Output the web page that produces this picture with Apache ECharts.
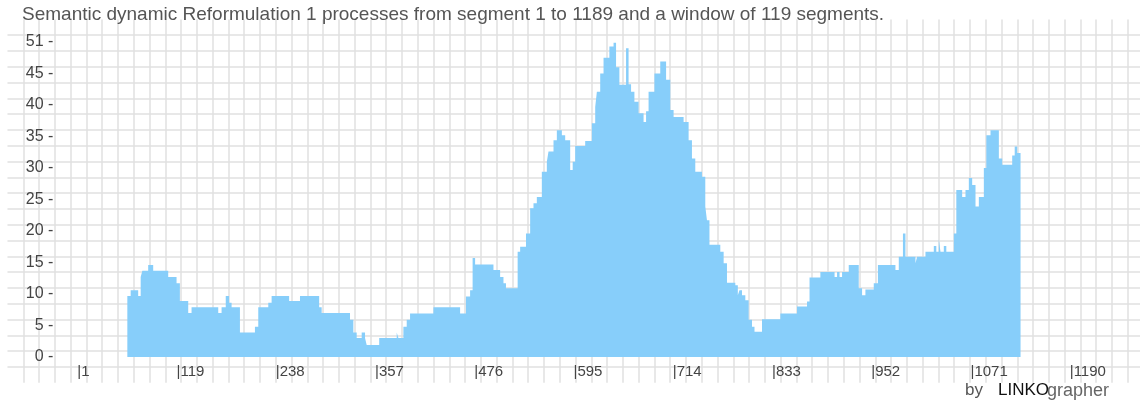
<!DOCTYPE html>
<html>
<head>
<meta charset="utf-8">
<script src="https://cdn.jsdelivr.net/npm/echarts/dist/echarts.min.js"></script>
<style>
    body {margin:0; background:#fff;}
    #main_box {width:1140px; height:402px;}
</style>
</head>
<body>
<div id="main_box"></div>
<script>
// step runs: segment where a run starts, and its value
let seg_start = [60, 64, 73, 76, 78, 85, 91, 109, 119, 123, 133, 137, 169, 173, 178, 182, 185, 195, 213, 217,
    229, 233, 254, 267, 290, 293, 327, 331, 335, 341, 345, 347, 362, 383, 385, 391, 395, 399, 427, 459,
    466, 471, 474, 477, 499, 507, 511, 514, 528, 531, 538, 543, 547, 551, 557, 563, 565, 571, 575, 581,
    585, 591, 594, 597, 609, 617, 621, 623, 627, 631, 638, 643, 646, 650, 658, 661, 664, 668, 673, 679,
    682, 685, 692, 699, 706, 711, 715, 727, 733, 737, 741, 749, 753, 755, 758, 771, 775, 779, 789, 792,
    794, 797, 801, 805, 809, 812, 821, 843, 863, 875, 878, 891, 908, 911, 914, 917, 925, 937, 941, 945,
    955, 960, 981, 985, 990, 993, 1005, 1007, 1017, 1027, 1030, 1033, 1035, 1039, 1042, 1051, 1054, 1061, 1065, 1069,
    1073, 1077, 1081, 1087, 1090, 1095, 1105, 1109, 1121, 1124, 1127, 1131];
let seg_value = [9.7, 10.6, 9.7, 12.7, 13.7, 14.6, 13.7, 12.7, 11.7, 8.9, 7.0, 7.9, 7.0, 7.9, 9.7, 8.6, 7.9, 3.9, 4.8, 7.9,
    8.6, 9.7, 8.9, 9.7, 7.9, 7.0, 5.9, 3.9, 3.0, 3.9, 3.0, 1.9, 3.0, 3.9, 3.0, 4.8, 5.9, 6.9, 7.9, 6.9,
    9.6, 10.6, 15.7, 14.7, 13.8, 12.7, 11.7, 10.9, 16.7, 17.5, 19.6, 23.6, 24.4, 25.4, 29.4, 31.0, 32.6, 34.4, 36.0, 35.2,
    34.4, 29.7, 31.0, 33.5, 34.3, 37.1, 39.7, 42.1, 45.0, 47.5, 49.3, 49.9, 46.0, 43.2, 49.0, 43.3, 42.1, 40.5, 38.7, 37.3,
    39.0, 42.1, 45.0, 46.9, 44.0, 39.2, 38.1, 37.3, 34.4, 31.5, 29.4, 28.6, 23.9, 21.7, 17.8, 16.7, 14.9, 11.8, 11.4, 9.8,
    10.6, 9.8, 9.0, 5.9, 4.8, 4.0, 6.0, 6.9, 8.0, 8.8, 12.6, 13.5, 12.7, 13.5, 12.7, 13.5, 14.6, 10.9, 9.8, 10.7,
    11.7, 14.6, 13.8, 15.9, 19.6, 15.9, 14.9, 15.9, 16.7, 17.6, 16.7, 18.7, 16.7, 17.6, 16.7, 19.6, 26.5, 25.4, 26.5, 28.4,
    27.3, 23.9, 25.4, 30.0, 35.2, 36.0, 31.5, 30.5, 32.0, 33.4, 32.4, 32.4];

let x_ticks = [0, 119, 238, 357, 476, 595, 714, 833, 952, 1071, 1190];
let x_tick_labels = ['|1', '|119', '|238', '|357', '|476', '|595', '|714', '|833', '|952', '|1071', '|1190'];
let y_ticks = [0, 5, 10, 15, 20, 25, 30, 35, 40, 45, 50];
let y_tick_labels = ['0 -', '5 -', '10 -', '15 -', '20 -', '25 -', '30 -', '35 -', '40 -', '45 -', '51 -'];

let title_text = 'Semantic dynamic Reformulation 1 processes from segment 1 to 1189 and a window of 119 segments.';

function draw_chart(){
    let chart_box = echarts.init(document.getElementById('main_box'));
    let points = seg_start.map(function(s, i){ return [s, seg_value[i]]; });
    let font = 'Liberation Sans, Arial, sans-serif';
    let grid_line = {show:true, showMinLine:false, showMaxLine:false, lineStyle:{color:'#e0e0e0', width:1.5}};

    let option = {
        animation: false,
        title: {
            text: title_text, left: 22, top: 5, padding: 0,
            textStyle: {color:'#555', fontSize:19, fontWeight:'normal', fontFamily:font}
        },
        grid: [
            // squared paper behind the chart
            {left: 7.5, top: 19.4, width: 1136, height: 363.4, outerBoundsMode:'none'},
            {left: 77.3, top: 42, width: 1062.5, height: 315, outerBoundsMode:'none'}
        ],
        xAxis: [
            {
                gridIndex:0, type:'value', min:0, max:72, interval:1,
                axisLine:{show:false}, axisTick:{show:false}, axisLabel:{show:false},
                splitLine: grid_line
            },
            {
                gridIndex:1, type:'value', min:0, max:1274,
                axisLine:{show:false}, axisTick:{show:false}, splitLine:{show:false},
                axisLabel:{
                    customValues: x_ticks, align:'left', margin:7,
                    color:'#444', fontSize:15, fontFamily:font,
                    formatter: function(v){ return x_tick_labels[x_ticks.indexOf(v)]; }
                }
            }
        ],
        yAxis: [
            {
                gridIndex:0, type:'value', min:0, max:23, interval:1,
                axisLine:{show:false}, axisTick:{show:false}, axisLabel:{show:false},
                splitLine: grid_line
            },
            {
                gridIndex:1, type:'value', min:0, max:50, interval:5,
                axisLine:{show:false}, axisTick:{show:false}, splitLine:{show:false},
                axisLabel:{
                    margin:24, color:'#444', fontSize:16, fontFamily:font,
                    formatter: function(v){ return y_tick_labels[y_ticks.indexOf(v)]; }
                }
            }
        ],
        graphic: [
            {type:'text', x:965, y:382, style:{text:'by', fill:'#555', font:'17px ' + font}},
            {type:'text', x:998, y:382, style:{text:'LINKO', fill:'#111', font:'17px ' + font}},
            {type:'text', x:1047, y:382, style:{text:'grapher', fill:'#666', font:'18px ' + font}}
        ],
        series: [
            {
                type:'line',
                xAxisIndex:1, yAxisIndex:1,
                step:'end',
                symbol:'none',
                data: points,
                lineStyle:{width:0, opacity:0},
                areaStyle:{color:'#87cefa', opacity:1}
            }
        ]
    };
    chart_box.setOption(option);
}

draw_chart();
</script>
</body>
</html>
